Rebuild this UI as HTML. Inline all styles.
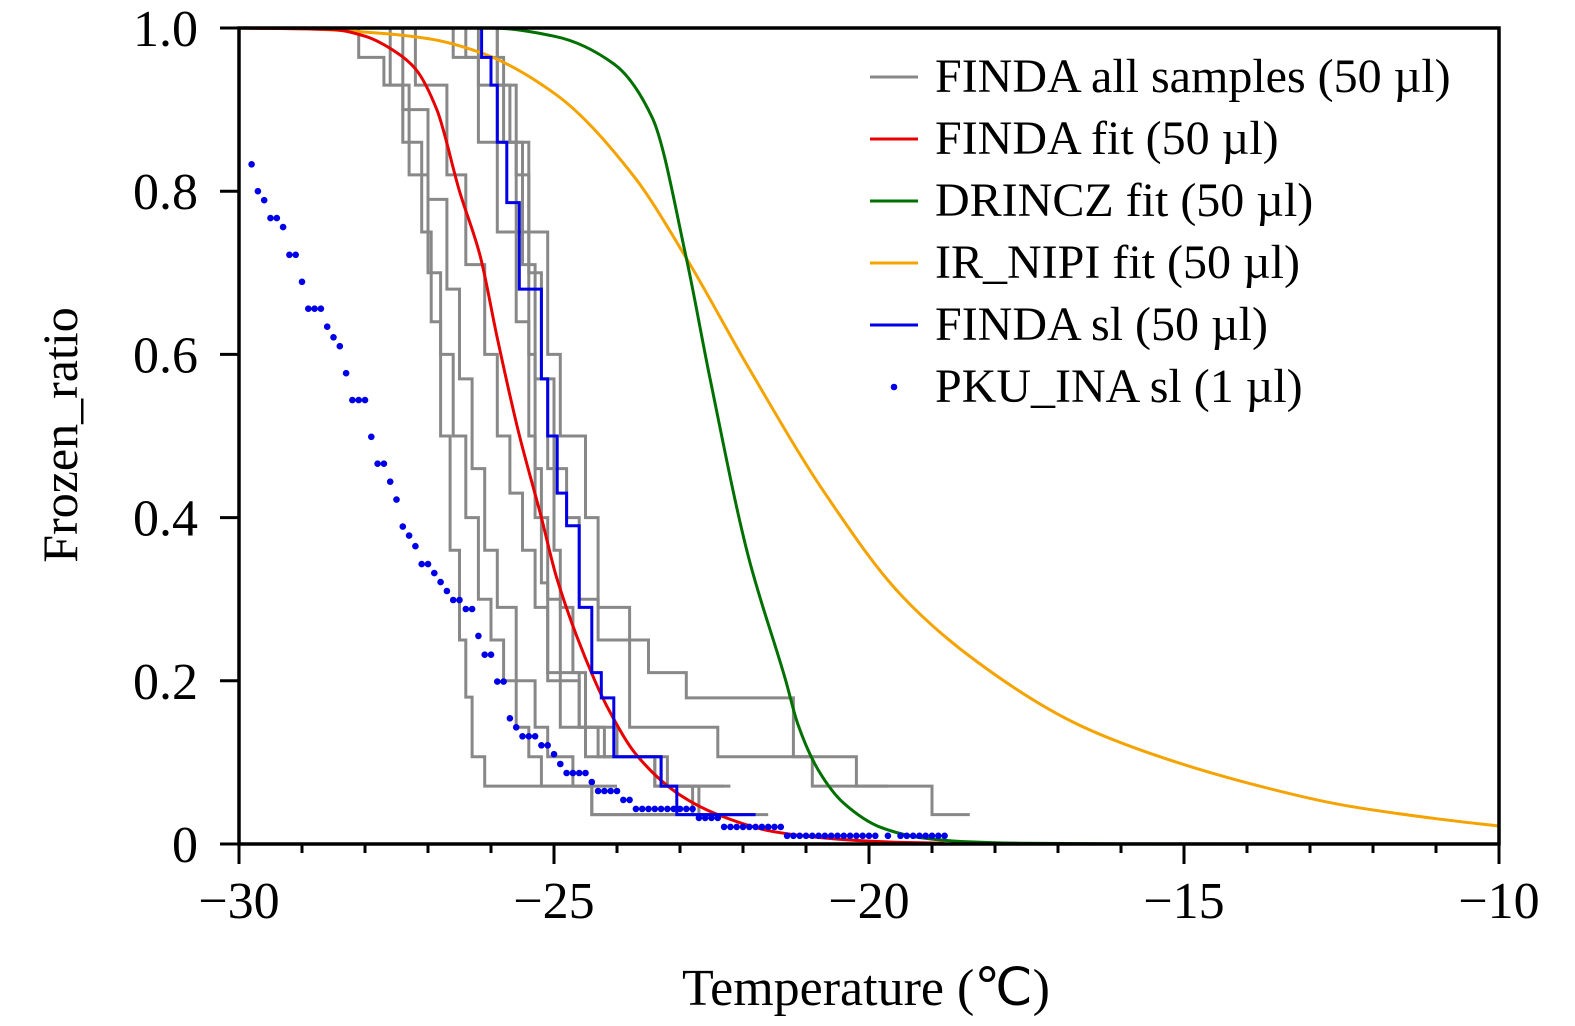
<!DOCTYPE html>
<html><head><meta charset="utf-8"><style>
html,body{margin:0;padding:0;background:#fff;}
svg{display:block;font-family:"Liberation Serif",serif;}
</style></head><body>
<svg id="chart" width="1575" height="1026" viewBox="0 0 1575 1026" xmlns="http://www.w3.org/2000/svg">
<rect width="1575" height="1026" fill="#fff"/>
<g id="plot"></g>
<g id="axes"></g>
<g id="legend"></g>
<text x="866" y="1005" font-size="52" text-anchor="middle">Temperature (℃)</text>
<text transform="translate(77,435) rotate(-90)" font-size="50" text-anchor="middle">Frozen_ratio</text>
</svg>
<script>
// ---- data ----
const xTicks = [-30, -25, -20, -15, -10];
const xTickLabels = ["−30", "−25", "−20", "−15", "−10"];
const yTicks = [0, 0.2, 0.4, 0.6, 0.8, 1.0];
const yTickLabels = ["0", "0.2", "0.4", "0.6", "0.8", "1.0"];

// FINDA individual samples: drop temperatures, level after each drop, end temperature
const s1T = [-28.1,-27.7,-27.4,-27.1,-26.95,-26.8,-26.65,-26.5,-26.4,-26.3,-26.1,-24.4];
const s1R = [0.964,0.93,0.86,0.75,0.64,0.5,0.36,0.25,0.18,0.107,0.071,0.036];
const s2T = [-27.6,-27.3,-27.0,-26.8,-26.6,-26.4,-26.2,-26.0,-25.8,-25.6,-25.4,-25.2,-24.4];
const s2R = [0.93,0.82,0.7,0.6,0.5,0.4,0.3,0.25,0.2,0.143,0.107,0.071,0.036];
const s3T = [-27.2,-26.7,-26.4,-26.1,-25.9,-25.7,-25.5,-25.3,-25.1,-24.6,-24.2,-23.2];
const s3R = [0.93,0.82,0.71,0.6,0.5,0.43,0.36,0.29,0.21,0.143,0.107,0.071];
const s4T = [-26.4,-25.8,-25.6,-25.4,-25.3,-25.2,-25.1,-24.9,-24.5,-23.4];
const s4R = [0.964,0.86,0.75,0.6,0.46,0.32,0.2,0.143,0.107,0.071];
const s5T = [-26.2,-25.7,-25.4,-25.1,-24.9,-24.5,-24.3,-23.8,-23.5,-22.9,-21.2,-20.9,-19.0];
const s5R = [0.93,0.86,0.75,0.6,0.5,0.4,0.29,0.25,0.21,0.179,0.107,0.071,0.036];
const s6T = [-25.9,-25.6,-25.4,-25.2,-25.0,-24.8,-24.6,-24.3,-23.8,-22.4,-20.2];
const s6R = [0.93,0.82,0.7,0.57,0.46,0.4,0.3,0.25,0.143,0.107,0.071];
const s7T = [-25.9,-25.5,-25.3,-25.1,-25.0,-24.9,-24.7,-24.5,-24.3,-23.4,-22.8];
const s7R = [0.86,0.71,0.57,0.46,0.36,0.29,0.21,0.143,0.107,0.071,0.036];
const s8T = [-26.6,-26.2,-25.9,-25.6,-25.4,-25.3,-25.1,-24.9,-24.6,-24.0,-23.3,-22.7];
const s8R = [0.964,0.86,0.75,0.64,0.5,0.4,0.3,0.2,0.143,0.107,0.071,0.036];
const s9T = [-27.4,-27.0,-26.7,-26.5,-26.3,-26.1,-25.9,-25.6,-25.3,-25.1,-24.7];
const s9R = [0.9,0.79,0.68,0.57,0.46,0.36,0.29,0.2,0.143,0.107,0.071];
const sampleEnds = [-21.6,-22.2,-22.3,-22.2,-18.4,-19.7,-22.0,-21.8,-24.0];

// FINDA single (blue step)
const slT = [-26.15,-26.0,-25.9,-25.75,-25.55,-25.2,-25.1,-24.95,-24.8,-24.6,-24.4,-24.25,-24.05,-23.3,-23.05];
const slR = [0.964,0.93,0.86,0.786,0.68,0.57,0.5,0.43,0.39,0.29,0.21,0.179,0.107,0.071,0.036];
const slEnd = -21.8;

// Fits
const redT = [-30,-28.5,-28,-27.5,-27.2,-26.86,-26.5,-26.17,-25.9,-25.57,-25.2,-24.96,-24.35,-24.1,-23.7,-23.0,-22.4,-21.5,-20.5,-19.5,-18.8];
const redR = [1,0.998,0.99,0.97,0.95,0.9,0.8,0.72,0.62,0.507,0.4,0.327,0.2,0.16,0.11,0.06,0.036,0.015,0.006,0.002,0.001];
const greenT = [-30,-26,-25,-24.05,-23.44,-22.9,-22.53,-21.92,-21.32,-21.13,-20.8,-20.4,-19.8,-19.2,-18.5,-17.5,-16,-10];
const greenR = [1,1,0.99,0.956,0.89,0.718,0.573,0.354,0.2,0.147,0.09,0.05,0.02,0.008,0.003,0.0008,0.0001,0];
const orangeT = [-30,-29,-28,-27,-26.17,-24.96,-23.75,-22.9,-21.92,-20.71,-19.49,-18.28,-16.7,-15.5,-14,-12.5,-11,-10];
const orangeR = [1,0.999,0.995,0.987,0.97,0.918,0.82,0.718,0.585,0.431,0.305,0.223,0.147,0.11,0.075,0.048,0.031,0.022];

// PKU_INA dots
const pkuT = [-29.8,-29.7,-29.6,-29.5,-29.4,-29.3,-29.2,-29.1,-29.0,-28.9,-28.8,-28.7,-28.6,-28.5,-28.4,-28.3,-28.2,-28.1,-28.0,-27.9,-27.8,-27.7,-27.6,-27.5,-27.4,-27.3,-27.2,-27.1,-27.0,-26.9,-26.8,-26.7,-26.6,-26.5,-26.4,-26.3,-26.2,-26.1,-26.0,-25.9,-25.8,-25.7,-25.6,-25.5,-25.4,-25.3,-25.2,-25.1,-25.0,-24.9,-24.8,-24.7,-24.6,-24.5,-24.4,-24.3,-24.2,-24.1,-24.0,-23.9,-23.8,-23.7,-23.6,-23.5,-23.4,-23.3,-23.2,-23.1,-23.0,-22.9,-22.8,-22.7,-22.6,-22.5,-22.4,-22.3,-22.2,-22.1,-22.0,-21.9,-21.8,-21.7,-21.6,-21.5,-21.4,-21.3,-21.2,-21.1,-21.0,-20.9,-20.8,-20.7,-20.6,-20.5,-20.4,-20.3,-20.2,-20.1,-20.0,-19.9,-19.7,-19.5,-19.4,-19.3,-19.2,-19.1,-19.0,-18.9,-18.8];
const pkuR = [0.833,0.8,0.789,0.767,0.767,0.756,0.722,0.722,0.689,0.656,0.656,0.656,0.634,0.621,0.61,0.577,0.544,0.544,0.544,0.499,0.466,0.466,0.444,0.422,0.389,0.378,0.365,0.343,0.343,0.332,0.321,0.31,0.299,0.299,0.288,0.288,0.255,0.232,0.232,0.199,0.199,0.154,0.143,0.132,0.132,0.132,0.121,0.121,0.11,0.098,0.087,0.087,0.087,0.087,0.076,0.065,0.065,0.065,0.065,0.054,0.054,0.043,0.043,0.043,0.043,0.043,0.043,0.043,0.043,0.043,0.043,0.032,0.032,0.032,0.032,0.021,0.021,0.021,0.021,0.021,0.021,0.021,0.021,0.021,0.021,0.01,0.01,0.01,0.01,0.01,0.01,0.01,0.01,0.01,0.01,0.01,0.01,0.01,0.01,0.01,0.01,0.01,0.01,0.01,0.01,0.01,0.01,0.01,0.01];

// ---- axis functions ----
const X0 = 239, X1 = 1499, Y0 = 844, Y1 = 28;
function sx(t){ return X0 + (t + 30) / 20 * (X1 - X0); }
function sy(r){ return Y0 - r * (Y0 - Y1); }
const NS = "http://www.w3.org/2000/svg";
function mk(tag, attrs, parent){
  const e = document.createElementNS(NS, tag);
  for (const k in attrs) e.setAttribute(k, attrs[k]);
  parent.appendChild(e);
  return e;
}
const plot = document.getElementById('plot');
const axes = document.getElementById('axes');
const legend = document.getElementById('legend');

const defs = mk('defs', {}, plot);
const cp = mk('clipPath', {id:'clip'}, defs);
mk('rect', {x:X0, y:Y1-2, width:X1-X0, height:Y0-Y1+2}, cp);
const g = mk('g', {'clip-path':'url(#clip)'}, plot);

function stepPath(T, R, end){
  let d = 'M' + sx(-30) + ',' + sy(1);
  let prev = 1;
  for (let i = 0; i < T.length; i++){
    d += ' L' + sx(T[i]).toFixed(1) + ',' + sy(prev).toFixed(1);
    d += ' L' + sx(T[i]).toFixed(1) + ',' + sy(R[i]).toFixed(1);
    prev = R[i];
  }
  d += ' L' + sx(end).toFixed(1) + ',' + sy(prev).toFixed(1);
  return d;
}
// monotone cubic smoothing through the data points
function smoothPath(T, R){
  const xs = T.map(sx), ys = R.map(sy), n = xs.length;
  const dx = [], m = [];
  for (let i = 0; i < n-1; i++){ dx.push(xs[i+1]-xs[i]); m.push((ys[i+1]-ys[i])/(xs[i+1]-xs[i])); }
  const tan = [m[0]];
  for (let i = 1; i < n-1; i++){
    if (m[i-1]*m[i] <= 0) tan.push(0);
    else { const w1 = 2*dx[i]+dx[i-1], w2 = dx[i]+2*dx[i-1]; tan.push((w1+w2)/(w1/m[i-1]+w2/m[i])); }
  }
  tan.push(m[n-2]);
  let d = 'M' + xs[0].toFixed(1) + ',' + ys[0].toFixed(1);
  for (let i = 0; i < n-1; i++){
    const h = dx[i]/3;
    d += ' C' + (xs[i]+h).toFixed(1) + ',' + (ys[i]+tan[i]*h).toFixed(1) + ' ' + (xs[i+1]-h).toFixed(1) + ',' + (ys[i+1]-tan[i+1]*h).toFixed(1) + ' ' + xs[i+1].toFixed(1) + ',' + ys[i+1].toFixed(1);
  }
  return d;
}

const samplesT = [s1T,s2T,s3T,s4T,s5T,s6T,s7T,s8T,s9T];
const samplesR = [s1R,s2R,s3R,s4R,s5R,s6R,s7R,s8R,s9R];
for (let i = 0; i < samplesT.length; i++){
  const p = mk('path', {d: stepPath(samplesT[i], samplesR[i], sampleEnds[i]), fill:'none', stroke:'#888', 'stroke-width':3}, g);
  
  
}
let p;
p = mk('path', {d: smoothPath(orangeT, orangeR), fill:'none', stroke:'#f5a300', 'stroke-width':3}, g);


p = mk('path', {d: smoothPath(greenT, greenR), fill:'none', stroke:'#007000', 'stroke-width':3}, g);


p = mk('path', {d: smoothPath(redT, redR), fill:'none', stroke:'#e80000', 'stroke-width':3}, g);


p = mk('path', {d: stepPath(slT, slR, slEnd), fill:'none', stroke:'#0000e8', 'stroke-width':3}, g);


for (let i = 0; i < pkuT.length; i++){
  const c = mk('circle', {cx: sx(pkuT[i]).toFixed(1), cy: sy(pkuR[i]).toFixed(1), r: 3.3, fill:'#0000e8'}, g);
  
  
}

const frame = mk('path', {d:`M${X0},${Y1} L${X1},${Y1} L${X1},${Y0} L${X0},${Y0} Z`, fill:'none', stroke:'#000', 'stroke-width':3.5}, axes);



for (let t = -30; t <= -10; t++){
  const major = (t % 5 === 0);
  const tk = mk('line', {x1: sx(t), x2: sx(t), y1: Y0, y2: Y0 + (major ? 20 : 9), stroke:'#000', 'stroke-width':3}, axes);
  
  
}
for (let i = 0; i < xTicks.length; i++){
  const tx = mk('text', {x: sx(xTicks[i]), y: 918, 'font-size': 52, 'text-anchor':'middle'}, axes);
  tx.textContent = xTickLabels[i];
  
  
}
for (let i = 0; i < yTicks.length; i++){
  const tk = mk('line', {x1: X0 - 19, x2: X0, y1: sy(yTicks[i]), y2: sy(yTicks[i]), stroke:'#000', 'stroke-width':3}, axes);
  
  
  const tx = mk('text', {x: 198, y: sy(yTicks[i]) + 18, 'font-size': 52, 'text-anchor':'end'}, axes);
  tx.textContent = yTickLabels[i];
  
  
}

const legLabels = ["FINDA all samples (50 µl)","FINDA fit (50 µl)","DRINCZ fit (50 µl)","IR_NIPI fit (50 µl)","FINDA sl (50 µl)","PKU_INA sl (1 µl)"];
const legColors = ["#888","#e80000","#007000","#f5a300","#0000e8","#0000e8"];
for (let i = 0; i < legLabels.length; i++){
  const yy = 77 + i * 62;
  if (i < 5){
    const l = mk('line', {x1:870, x2:918, y1:yy, y2:yy, stroke:legColors[i], 'stroke-width':3}, legend);
    
    
  } else {
    const c = mk('circle', {cx:894, cy:yy, r:3.3, fill:legColors[i]}, legend);
    
    
  }
  const tx = mk('text', {x:935, y:yy + 15, 'font-size':48}, legend);
  tx.textContent = legLabels[i];
  
  
}
</script>
</body></html>
